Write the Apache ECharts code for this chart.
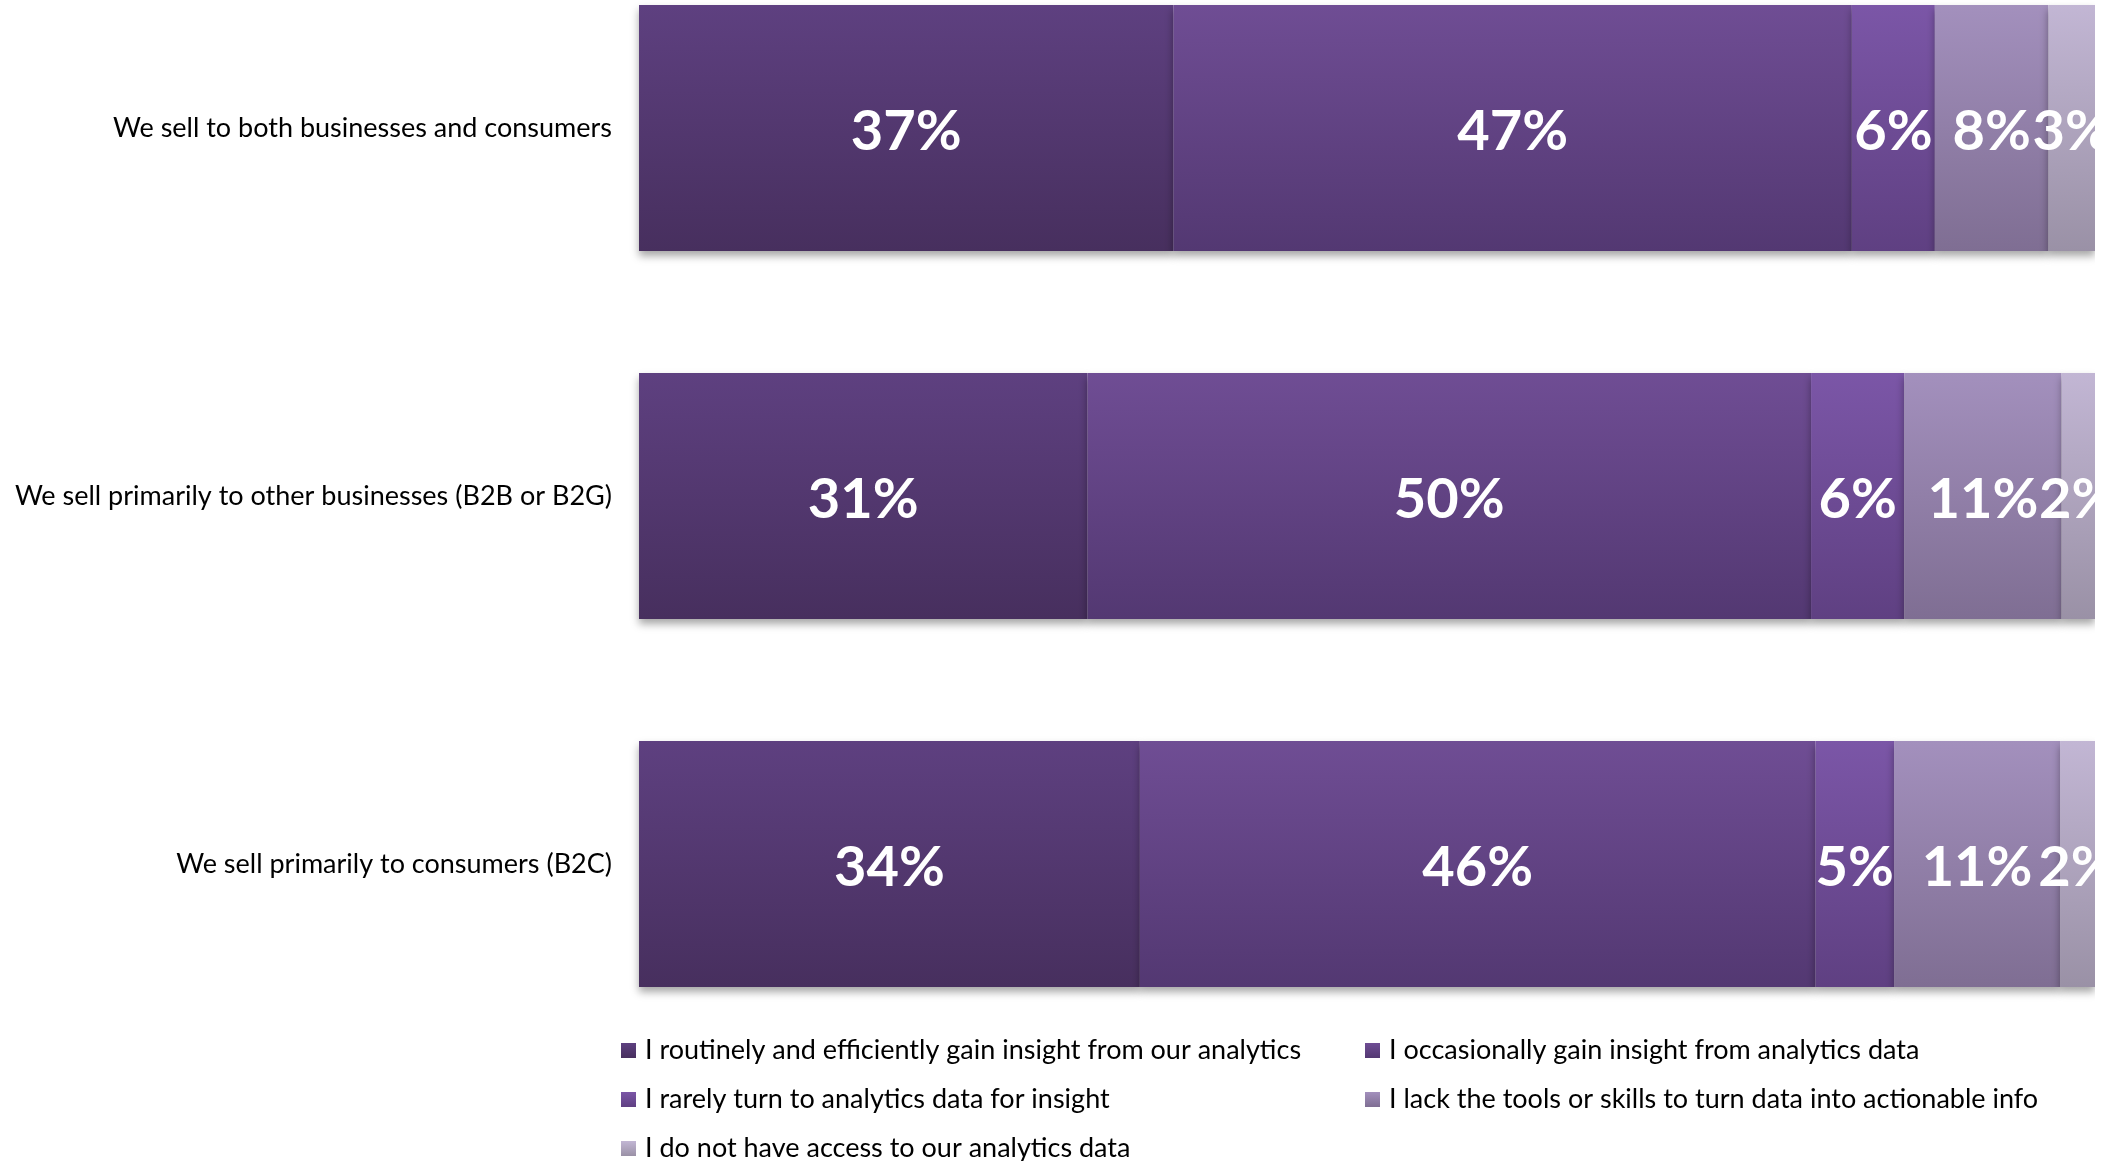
<!DOCTYPE html>
<html>
<head>
<meta charset="utf-8">
<title>Analytics insight by sales type</title>
<script src="https://cdn.jsdelivr.net/npm/echarts@6/dist/echarts.min.js"></script>
<style>
  html, body { margin: 0; padding: 0; background: #fff; }
  #chart { width: 2109px; height: 1161px; }
</style>
</head>
<body>
<div id="chart"></div>
<script>
// categories, top to bottom
const categories = [
  'We sell to both businesses and consumers',
  'We sell primarily to other businesses (B2B or B2G)',
  'We sell primarily to consumers (B2C)'
];

// series names (legend order)
const seriesNames = [
  'I routinely and efficiently gain insight from our analytics',
  'I occasionally gain insight from analytics data',
  'I rarely turn to analytics data for insight',
  'I lack the tools or skills to turn data into actionable info',
  'I do not have access to our analytics data'
];

// shares in %, one value per category
const routinely    = [36.7, 30.8, 34.4];
const occasionally = [46.6, 49.7, 46.4];
const rarely       = [5.7, 6.4, 5.4];
const lackTools    = [7.8, 10.8, 11.4];
const noAccess     = [3.2, 2.3, 2.4];

// gradient top / bottom colours per series
const topColors    = ['#5e4080', '#6f4d94', '#7b56a7', '#a390bd', '#c2b6d4'];
const bottomColors = ['#472f5e', '#533872', '#5f4082', '#7f6e93', '#9a91a6'];

const allData = [routinely, occasionally, rarely, lackTools, noAccess];

const chart = echarts.init(document.getElementById('chart'));

const series = allData.map((vals, i) => ({
  name: seriesNames[i],
  type: 'bar',
  stack: 'total',
  data: vals,
  barWidth: 246,
  clip: false,
  itemStyle: {
    color: new echarts.graphic.LinearGradient(0, 0, 0, 1, [
      { offset: 0, color: topColors[i] },
      { offset: 1, color: bottomColors[i] }
    ]),
    shadowColor: 'rgba(0, 0, 0, 0.35)',
    shadowBlur: 8,
    shadowOffsetY: 5
  },
  label: {
    show: true,
    position: 'inside',
    offset: [0, 4],
    color: '#fff',
    fontFamily: 'Lato',
    fontWeight: 'bold',
    fontSize: 56,
    formatter: p => Math.round(p.value) + '%'
  },
  emphasis: { disabled: true }
}));

const option = {
  backgroundColor: '#fff',
  animation: false,
  // bar centres sit on the category ticks (boundaryGap false)
  grid: {
    left: 639,
    right: 14,
    top: 128,
    bottom: 297,
    containLabel: false
  },
  xAxis: {
    type: 'value',
    min: 0,
    max: 100,
    show: false
  },
  yAxis: {
    type: 'category',
    data: categories,
    inverse: true,
    boundaryGap: false,
    axisLine: { show: false },
    axisTick: { show: false },
    splitLine: { show: false },
    axisLabel: {
      color: '#000',
      fontFamily: 'Lato',
      fontSize: 27,
      margin: 27
    }
  },
  legend: {
    data: seriesNames,
    left: 621,
    top: 1037,
    width: 1480,
    orient: 'horizontal',
    icon: 'rect',
    itemWidth: 15,
    itemHeight: 15,
    itemGap: 22,
    padding: 0,
    itemStyle: { shadowBlur: 0, shadowOffsetY: 0 },
    textStyle: {
      color: '#000',
      fontFamily: 'Lato',
      fontSize: 27,
      width: 698,
      lineHeight: 22,
      padding: [0, 0, 0, 4]
    }
  },
  graphic: [
    {
      // clip labels at the plot's right edge, as in the original
      type: 'rect',
      right: 0,
      top: 0,
      z: 100,
      shape: { width: 14, height: 1020 },
      style: { fill: '#fff' },
      silent: true
    }
  ],
  series: series
};

chart.setOption(option);
</script>
</body>
</html>
